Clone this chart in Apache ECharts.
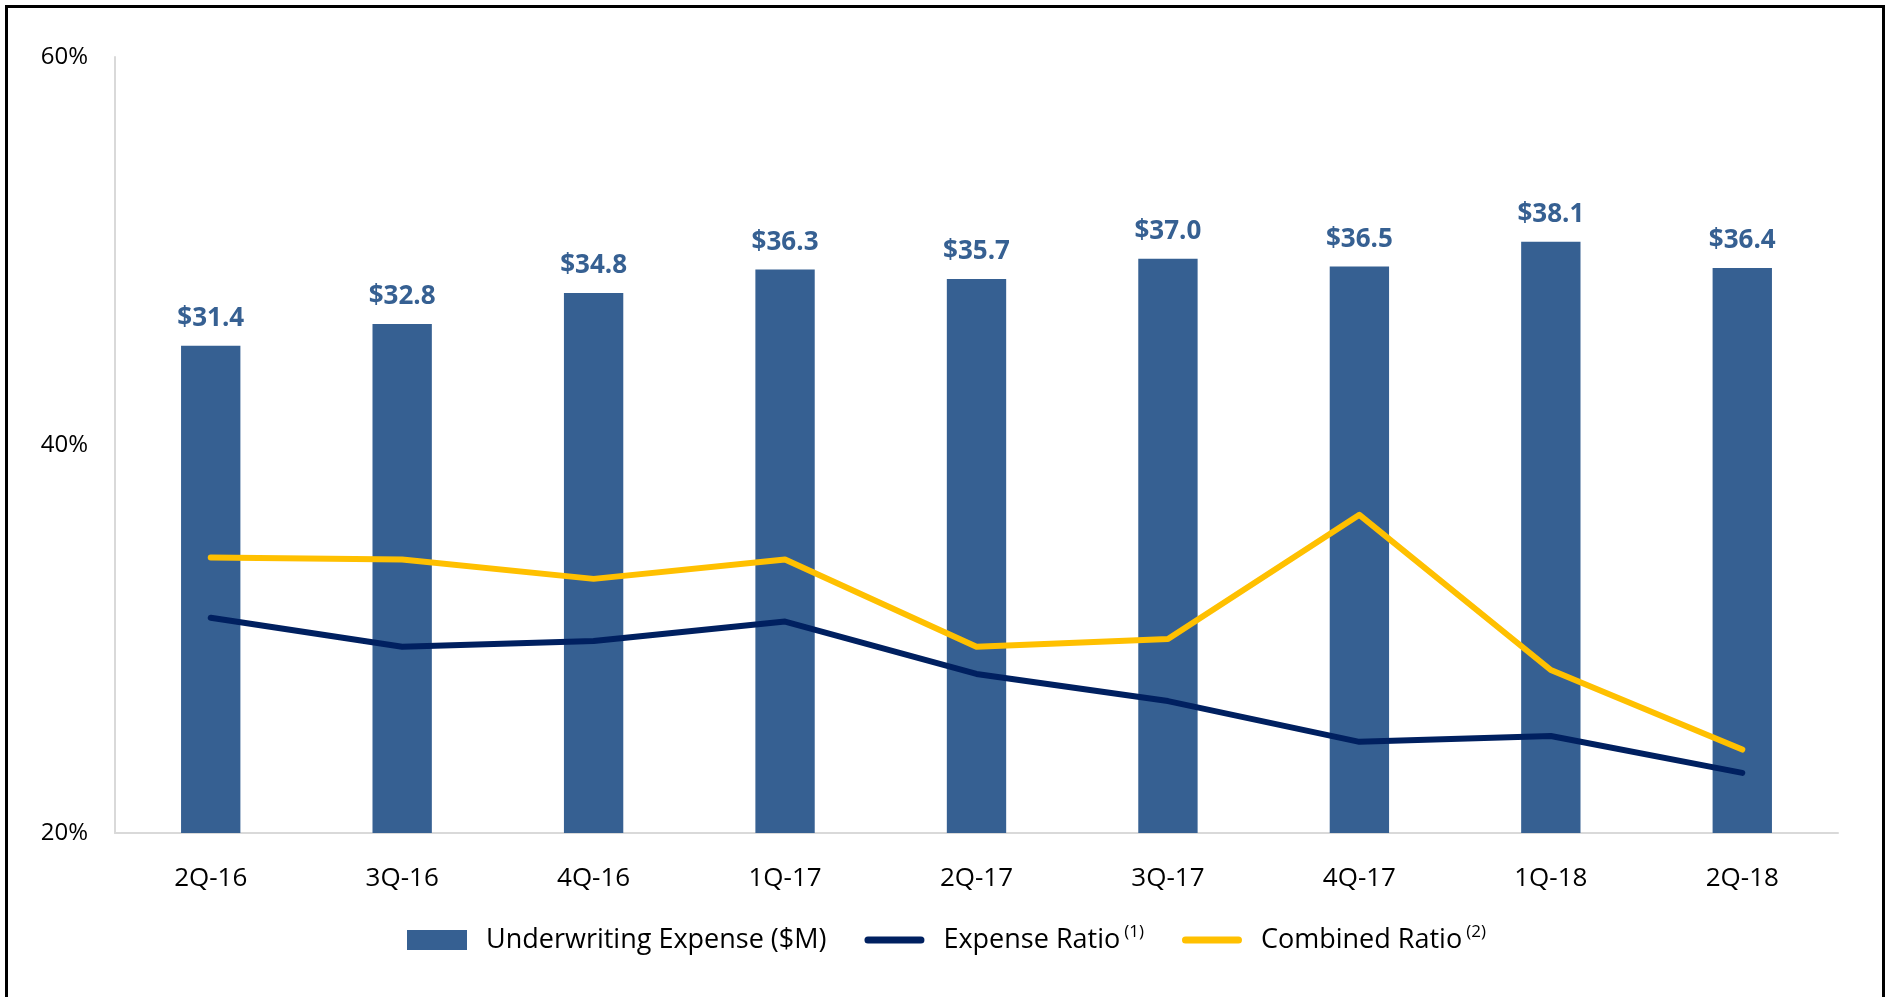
<!DOCTYPE html>
<html>
<head>
<meta charset="utf-8">
<script src="https://cdn.jsdelivr.net/npm/echarts@6/dist/echarts.min.js"></script>
<style>
  html, body { margin: 0; padding: 0; overflow: hidden; background: #fff; }
  #main { width: 1887px; height: 997px; }
  #frame {
    position: absolute; left: 5px; top: 5px;
    width: 1874px; height: 1100px;
    border: 3px solid #000; border-bottom: none;
    pointer-events: none;
  }
</style>
</head>
<body>
<div id="main"></div>
<div id="frame"></div>
<script>
// quarters
let quarters = ["2Q-16", "3Q-16", "4Q-16", "1Q-17", "2Q-17", "3Q-17", "4Q-17", "1Q-18", "2Q-18"];
// underwriting expense, $M
let uwExpense = [31.4, 32.8, 34.8, 36.3, 35.7, 37.0, 36.5, 38.1, 36.4];
// ratios, %
let expenseRatio = [31.1, 29.6, 29.9, 30.9, 28.2, 26.8, 24.7, 25.0, 23.1];
let combinedRatio = [34.2, 34.1, 33.1, 34.1, 29.6, 30.0, 36.4, 28.4, 24.3];
let pctTicks = [20, 40, 60];

let font = "'Open Sans', 'Noto Sans', sans-serif";
let lineIcon = "path://M3.5,0 H56.5 A3.5,3.5 0 0 1 56.5,7 H3.5 A3.5,3.5 0 0 1 3.5,0 Z";

let mycharts = echarts.init(document.getElementById("main"));
let option = {
  animation: false,
  textStyle: { fontFamily: font },
  grid: {
    left: 115,
    right: 49,
    top: 57,
    bottom: 164
  },
  legend: {
    left: 402,
    top: 919,
    itemWidth: 60,
    itemHeight: 20,
    itemGap: 38,
    data: [
      { name: "Underwriting Expense ($M)", icon: "rect" },
      { name: "Expense Ratio", icon: lineIcon },
      { name: "Combined Ratio", icon: lineIcon }
    ],
    formatter: function(name) {
      if (name == "Expense Ratio") return "{n|Expense Ratio}{s|(1)}";
      if (name == "Combined Ratio") return "{n|Combined Ratio}{s|(2)}";
      return "{n|" + name + "}";
    },
    textStyle: {
      padding: [0, 0, 0, 14],
      rich: {
        n: { fontFamily: font, fontSize: 27, color: "#000", lineHeight: 32, verticalAlign: "middle" },
        s: { fontFamily: font, fontSize: 17, color: "#000", verticalAlign: "top", padding: [0, 0, 0, 4] }
      }
    }
  },
  xAxis: [
    {
      type: "category",
      data: quarters,
      axisTick: { show: false },
      axisLine: { lineStyle: { color: "#d9d9d9", width: 2 } },
      axisLabel: {
        fontSize: 26,
        color: "#000",
        margin: 33,
        interval: 0
      }
    }
  ],
  yAxis: [
    {
      type: "value",
      min: 20,
      max: 60,
      interval: 20,
      splitLine: { show: false },
      axisTick: { show: false },
      axisLine: { show: true, lineStyle: { color: "#d9d9d9", width: 2 } },
      axisLabel: {
        fontSize: 24,
        color: "#000",
        margin: 27,
        formatter: function(v) {
          return pctTicks.indexOf(v) >= 0 ? v + "%" : "";
        }
      }
    },
    // bars use a hidden axis
    {
      type: "value",
      min: 0,
      max: 50,
      show: false,
      splitLine: { show: false }
    }
  ],
  series: [
    {
      name: "Underwriting Expense ($M)",
      type: "bar",
      yAxisIndex: 1,
      barWidth: "31%",
      data: uwExpense,
      itemStyle: { color: "#366092" },
      label: {
        show: true,
        position: "top",
        distance: 14,
        fontSize: 26,
        fontWeight: "bold",
        color: "#366092",
        formatter: function(p) {
          return "$" + p.value.toFixed(1);
        }
      },
      z: 1
    },
    {
      name: "Expense Ratio",
      type: "line",
      yAxisIndex: 0,
      data: expenseRatio,
      symbol: "none",
      lineStyle: { width: 6, color: "#002060", cap: "round", join: "round" },
      itemStyle: { color: "#002060" },
      z: 3
    },
    {
      name: "Combined Ratio",
      type: "line",
      yAxisIndex: 0,
      data: combinedRatio,
      symbol: "none",
      lineStyle: { width: 6, color: "#ffc000", cap: "round", join: "round" },
      itemStyle: { color: "#ffc000" },
      z: 3
    }
  ]
};
mycharts.setOption(option);
</script>
</body>
</html>
